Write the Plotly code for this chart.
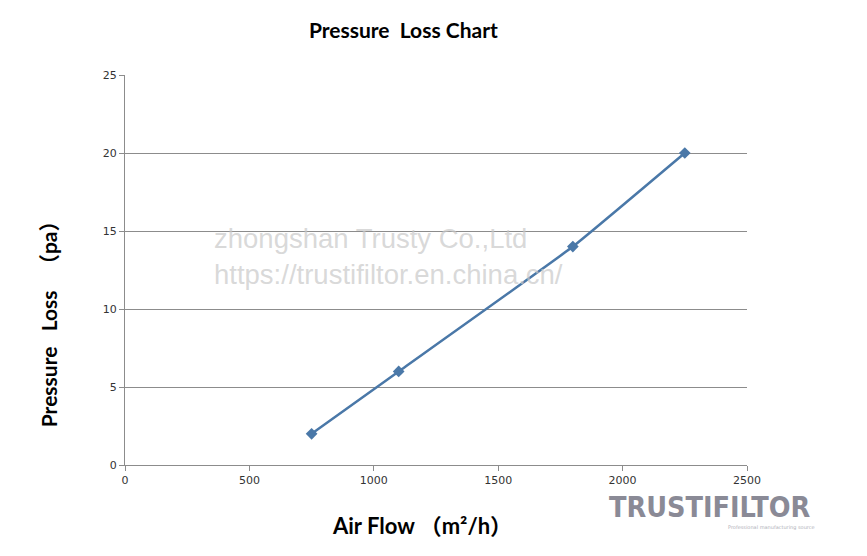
import plotly.graph_objects as go

# air flow vs pressure loss
air_flow = [750, 1100, 1800, 2250]
pressure_loss = [2, 6, 14, 20]

x_ticks = [0, 500, 1000, 1500, 2000, 2500]
y_ticks = [0, 5, 10, 15, 20, 25]

line_color = '#4a78a8'
grid_color = '#8c8c8c'
title_font = 'Lato, Noto Sans CJK SC'

fig = go.Figure()
fig.add_trace(go.Scatter(
    x=air_flow, y=pressure_loss, mode='lines+markers',
    line=dict(color=line_color, width=2.5, shape='spline', smoothing=0.3),
    marker=dict(symbol='diamond', size=9, color=line_color),
    showlegend=False,
))

fig.update_layout(
    width=867, height=556,
    margin=dict(l=117, r=128, t=67, b=99),
    plot_bgcolor='white', paper_bgcolor='white',
    font=dict(family='DejaVu Sans', color='#333333'),
    title=dict(text='<b>Pressure  Loss Chart</b>', x=0.456, xanchor='center', y=0.972,
               font=dict(family=title_font, size=21, color='black')),
)

fig.update_xaxes(
    range=[0, 2500], tickvals=x_ticks, ticks='outside', ticklen=5, tickcolor=grid_color,
    showline=True, linecolor=grid_color, linewidth=1, showgrid=False, zeroline=False,
    tickfont=dict(size=11, color='#333333'),
)
fig.update_yaxes(
    range=[0, 25], tickvals=y_ticks, ticks='outside', ticklen=5, tickcolor=grid_color,
    showline=True, linecolor=grid_color, linewidth=1, showgrid=True, gridcolor=grid_color,
    gridwidth=1, zeroline=False,
    tickfont=dict(size=11, color='#333333'),
)

# axis titles as annotations (they sit off-centre in the original)
fig.add_annotation(text='<b>Air Flow （m²/h）</b>', xref='paper', yref='paper',
                   x=0.477, y=-0.154, xanchor='center', yanchor='middle', showarrow=False,
                   font=dict(family=title_font, size=22, color='black'))
fig.add_annotation(text='<b>Pressure   Loss   （pa）</b>', xref='paper', yref='paper',
                   x=-0.124, y=0.376, xanchor='center', yanchor='middle', showarrow=False,
                   textangle=-90, font=dict(family=title_font, size=21, color='black'))

# watermark text
fig.add_annotation(text='zhongshan Trusty Co.,Ltd<br>https://trustifiltor.en.china.cn/',
                   xref='paper', yref='paper', x=0.14, y=0.535, xanchor='left', yanchor='middle',
                   showarrow=False, align='left',
                   font=dict(family='Liberation Sans', size=27.5, color='rgba(200,200,200,0.7)'))
# logo text
fig.add_annotation(text='<b>TRUSTIFILTOR</b>', xref='paper', yref='paper', x=0.9405, y=-0.108,
                   xanchor='center', yanchor='middle', showarrow=False,
                   font=dict(family='DejaVu Sans Condensed', size=28.5, color='#8a8a96'))
fig.add_annotation(text='Professional manufacturing source', xref='paper', yref='paper',
                   x=1.04, y=-0.16, xanchor='center', yanchor='middle', showarrow=False,
                   font=dict(family='DejaVu Sans', size=5, color='#b0b0b8'))

fig.write_html('out.html')
